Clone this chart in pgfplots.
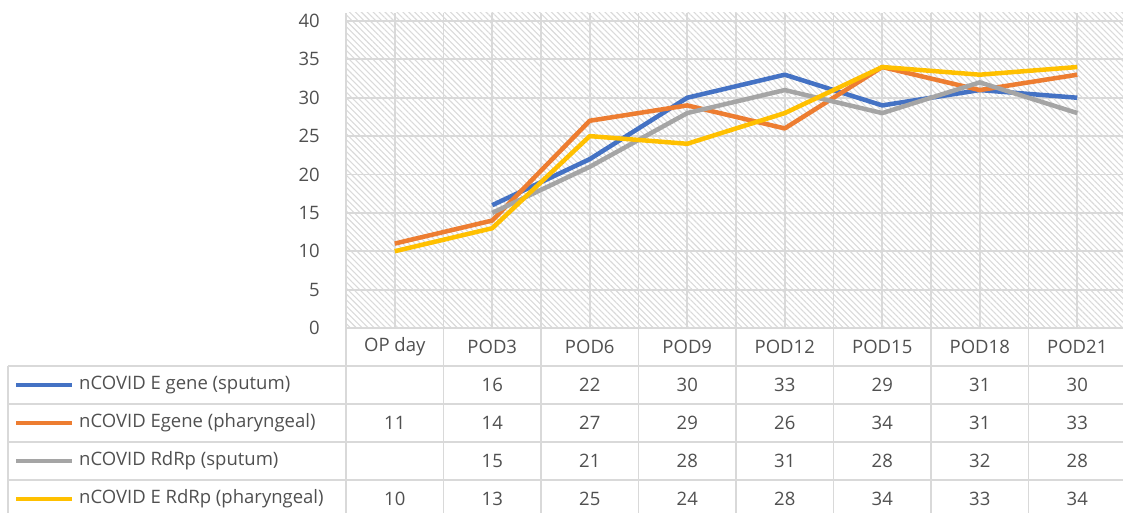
\documentclass[border=0pt]{standalone}
\usepackage{fontspec}
\setmainfont{Open Sans}
\usepackage{pgfplots}
\pgfplotsset{compat=1.18}
\usepackage{pgfplotstable}
\usetikzlibrary{patterns.meta}
\definecolor{cblue}{HTML}{4472C4}
\definecolor{corange}{HTML}{ED7D31}
\definecolor{cgray}{HTML}{A5A5A5}
\definecolor{cyellow}{HTML}{FFC000}
\definecolor{txt}{HTML}{505050}
\definecolor{gridc}{HTML}{D9D9D9}
\definecolor{hatch}{HTML}{DADADA}

\pgfplotstableread{
x Esp Eph Rsp Rph
0 nan 11 nan 10
1 16 14 15 13
2 22 27 21 25
3 30 29 28 24
4 33 26 31 28
5 29 34 28 34
6 31 31 32 33
7 30 33 28 34
}\data

\def\nanstr{nan}

\begin{document}
\begin{tikzpicture}[x=1pt,y=1pt]
\begin{axis}[
  at={(394.75pt,184pt)}, anchor=origin,
  scale only axis, width=780pt, height=315pt,
  xmin=-0.5, xmax=7.5, ymin=0, ymax=41.04,
  axis line style={draw=none},
  xtick={-0.5,0,...,7.5}, xticklabels={},
  ytick={0,5,...,40},
  major tick length=0pt,
  grid=major, grid style={gridc, line width=1.8pt},
  axis background/.style={pattern={Lines[angle=-45,distance=4.2pt,line width=1.1pt]}, pattern color=hatch},
  yticklabel style={font=\fontsize{18.5}{22}\selectfont, text=txt, inner sep=0pt, xshift=-26pt, /pgf/number format/assume math mode=true},
  clip=false,
]
\addplot[cblue, line width=4.5pt, line join=round] table[x=x,y=Esp]{\data};
\addplot[corange, line width=4.5pt, line join=round] table[x=x,y=Eph]{\data};
\addplot[cgray, line width=4.5pt, line join=round] table[x=x,y=Rsp]{\data};
\addplot[cyellow, line width=4.5pt, line join=round] table[x=x,y=Rph]{\data};
\pgfplotsinvokeforeach{0,...,7}{\coordinate (c#1) at (axis cs:#1,0);}
\end{axis}

% data table grid
\begin{scope}[draw=gridc, line width=1.8pt]
\foreach \k in {0,...,8} \draw (346+97.5*\k,184) -- (346+97.5*\k,-10);
\draw (346,184) -- (1135,184);
\foreach \yy in {146,108,70,32} \draw (8,\yy) -- (1135,\yy);
\draw (8,146) -- (8,-10);
\end{scope}

\begin{scope}[font=\fontsize{18.5}{22}\selectfont, text=txt]
\foreach \n [count=\i from 0] in {OP day,POD3,POD6,POD9,POD12,POD15,POD18,POD21}
  \node at ([yshift=-19pt]c\i) {\n};
\foreach \col/\clr/\name/\dy in {Esp/cblue/{nCOVID E gene (sputum)}/57,
    Eph/corange/{nCOVID Egene (pharyngeal)}/95,
    Rsp/cgray/{nCOVID RdRp (sputum)}/133,
    Rph/cyellow/{nCOVID E RdRp (pharyngeal)}/171} {
  \draw[\clr, line width=4.5pt] (16,184-\dy) -- (72,184-\dy);
  \node[anchor=west, inner sep=0pt] at (79,184-\dy) {\name};
  \foreach \i in {0,...,7} {
    \pgfplotstablegetelem{\i}{\col}\of\data
    \ifx\pgfplotsretval\nanstr\else
      \node at ([yshift=-\dy pt]c\i) {\pgfplotsretval};
    \fi
  }
}
\end{scope}

\pgfresetboundingbox
\useasboundingbox (0,0) rectangle (1123,512);
\end{tikzpicture}
\end{document}
